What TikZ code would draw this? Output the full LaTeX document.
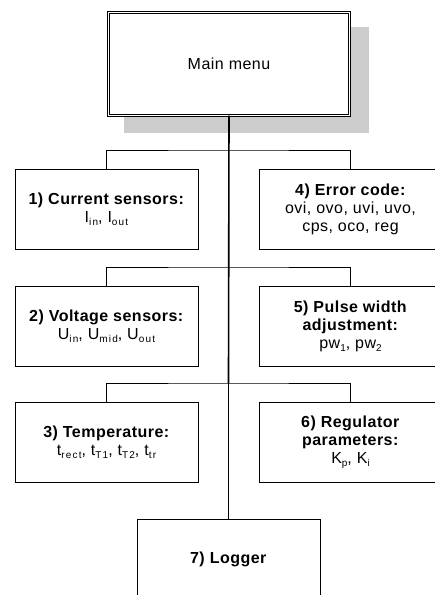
\documentclass[tikz,border=0pt]{standalone}
\usepackage{fontspec}
\setmainfont{Liberation Sans}[LetterSpace=3]
\newcommand{\sbx}[1]{\raisebox{-3.5pt}{\fontsize{10}{10}\selectfont\addfontfeatures{LetterSpace=12}#1}}
\begin{document}
\begin{tikzpicture}[x=1pt,y=-1pt,
  box/.style={draw, line width=0.9pt, fill=white, minimum width=183pt, minimum height=80pt,
    inner sep=0pt, outer sep=0pt, align=center, font=\fontsize{16}{18}\selectfont},
  mainbox/.style={draw, double, line width=0.8pt, double distance=1.8pt, fill=white,
    minimum width=241pt, minimum height=103pt, inner sep=0pt, outer sep=0pt,
    font=\fontsize{16}{18}\selectfont},
  branch/.style={line width=0.9pt},
  trunk/.style={line width=1.6pt},
  trunkthin/.style={line width=1.1pt}]
\useasboundingbox (0,0) rectangle (435,595);
\clip (0,0) rectangle (435,595);
\fill[fill={rgb,255:red,204;green,204;blue,204}] (124,27) rectangle (369,133);
\node[mainbox] (main) at (229,64) {Main menu};
\node[box] (b1) at (106.5,209) {\textbf{1) Current sensors:}\\ I\sbx{in}, I\sbx{out}};
\node[box] (b2) at (106.5,326) {\textbf{2) Voltage sensors:}\\ U\sbx{in}, U\sbx{mid}, U\sbx{out}};
\node[box] (b3) at (106.5,442) {\textbf{3) Temperature:}\\ t\sbx{rect}, t\sbx{T1}, t\sbx{T2}, t\sbx{tr}};
\node[box] (b4) at (350.5,209) {\textbf{4) Error code:}\\ ovi, ovo, uvi, uvo,\\ cps, oco, reg};
\node[box] (b5) at (350.5,326) {\textbf{5) Pulse width}\\ \textbf{adjustment:}\\ pw\sbx{1}, pw\sbx{2}};
\node[box] (b6) at (350.5,442) {\textbf{6) Regulator}\\ \textbf{parameters:}\\ K\sbx{p}, K\sbx{i}};
\node[box] (b7) at (228.5,559) {\textbf{7) Logger}};
\coordinate (j1) at (228.5,150);
\coordinate (j2) at (228.5,267);
\coordinate (j3) at (228.5,383);
\draw[branch] (b1.north) |- (j1) -| (b4.north);
\draw[branch] (b2.north) |- (j2) -| (b5.north);
\draw[branch] (b3.north) |- (j3) -| (b6.north);
\draw[trunk] (main.south) -- (j3);
\draw[trunkthin] (j3) -- (b7.north);
\end{tikzpicture}
\end{document}
